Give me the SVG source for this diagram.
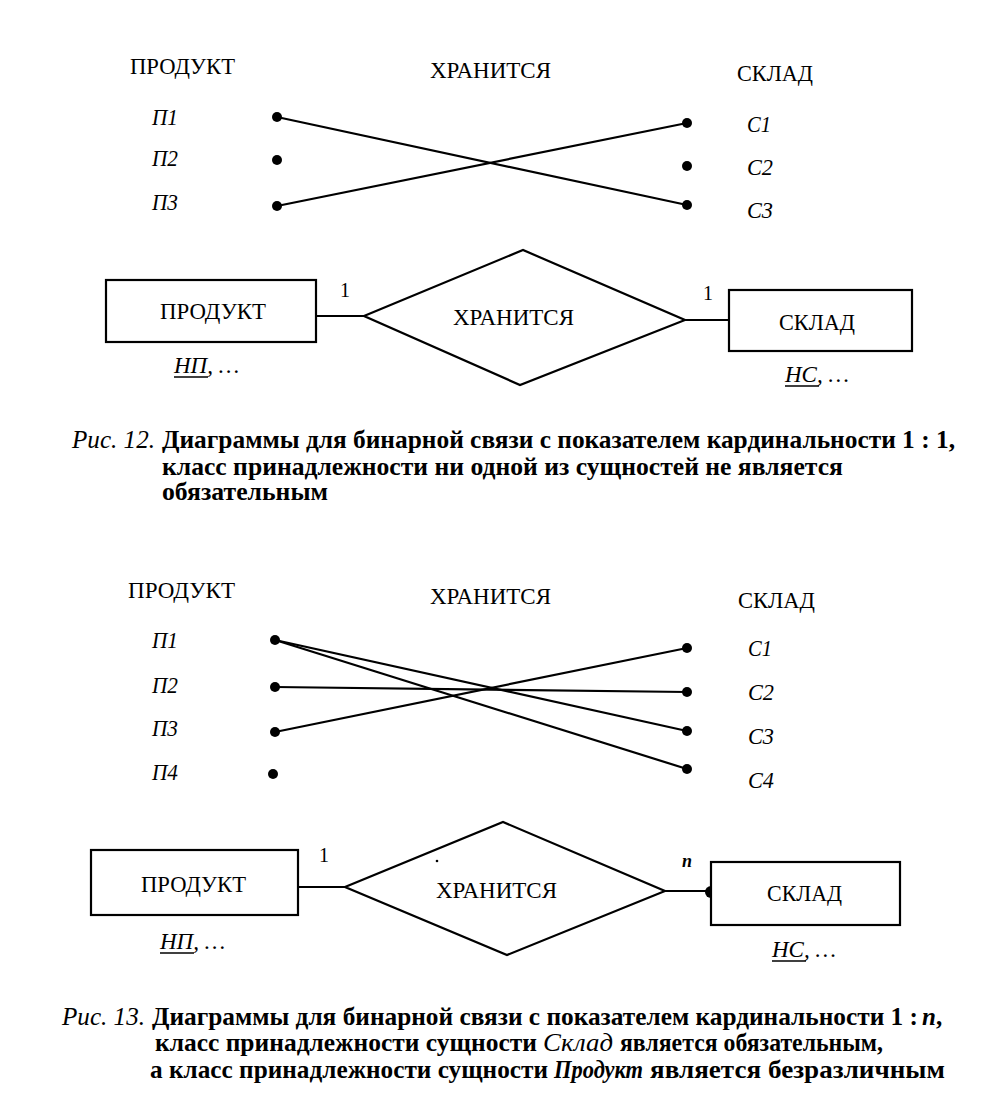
<svg xmlns="http://www.w3.org/2000/svg" width="993" height="1117" viewBox="0 0 993 1117">
<style>
.bg{fill:#fff}
.h{font-family:"Liberation Serif","Times New Roman",serif;font-size:24px;fill:#000}
.i{font-family:"Liberation Serif","Times New Roman",serif;font-size:23px;font-style:italic;fill:#000}
.cap{font-family:"Liberation Serif","Times New Roman",serif;font-size:25px;font-weight:bold;fill:#000}
.capi{font-family:"Liberation Serif","Times New Roman",serif;font-size:25px;font-style:italic;fill:#000}
.capbi{font-family:"Liberation Serif","Times New Roman",serif;font-size:25px;font-style:italic;font-weight:bold;fill:#000}
.ln{stroke:#000;stroke-width:2.2;fill:none}
.box{stroke:#000;stroke-width:2.2;fill:#fff}
.dot{fill:#000}
</style>
<rect class="bg" x="0" y="0" width="993" height="1117"/>

<!-- Figure 12: instance diagram -->
<g id="fig12-headers">
<text class="h" x="130" y="74" textLength="105" lengthAdjust="spacingAndGlyphs">ПРОДУКТ</text>
<text class="h" x="430" y="78" textLength="121" lengthAdjust="spacingAndGlyphs">ХРАНИТСЯ</text>
<text class="h" x="737" y="81" textLength="76" lengthAdjust="spacingAndGlyphs">СКЛАД</text>
</g>
<g id="fig12-products">
<text class="i" x="152" y="125" textLength="26" lengthAdjust="spacingAndGlyphs">П1</text>
<text class="i" x="152" y="166" textLength="26" lengthAdjust="spacingAndGlyphs">П2</text>
<text class="i" x="152" y="210" textLength="26" lengthAdjust="spacingAndGlyphs">П3</text>
<circle class="dot" cx="277" cy="117" r="5"/>
<circle class="dot" cx="277" cy="160" r="5"/>
<circle class="dot" cx="277" cy="206" r="5"/>
</g>
<g id="fig12-stores">
<text class="i" x="747" y="132" textLength="24" lengthAdjust="spacingAndGlyphs">С1</text>
<text class="i" x="747" y="175" textLength="26" lengthAdjust="spacingAndGlyphs">С2</text>
<text class="i" x="747" y="218" textLength="26" lengthAdjust="spacingAndGlyphs">С3</text>
<circle class="dot" cx="687" cy="123" r="5"/>
<circle class="dot" cx="687" cy="166" r="5"/>
<circle class="dot" cx="687" cy="205" r="5"/>
</g>
<g id="fig12-links">
<line class="ln" x1="277" y1="117" x2="687" y2="205"/>
<line class="ln" x1="277" y1="206" x2="687" y2="123"/>
</g>

<!-- Figure 12: ER diagram -->
<g id="fig12-er-connectors">
<line class="ln" x1="316" y1="316" x2="364" y2="316"/>
<line class="ln" x1="685" y1="320" x2="729" y2="320"/>
</g>
<g id="fig12-product">
<rect class="box" x="106" y="280" width="210" height="62"/>
<text class="h" x="160" y="319" textLength="106" lengthAdjust="spacingAndGlyphs">ПРОДУКТ</text>
<text class="i" x="174" y="373">НП, …</text>
<line class="ln" x1="174" y1="377" x2="208" y2="377" style="stroke-width:1.5"/>
</g>
<g id="fig12-rel">
<polygon class="box" points="364,316 523,250 685,320 520,385"/>
<text class="h" x="453" y="325" textLength="121" lengthAdjust="spacingAndGlyphs">ХРАНИТСЯ</text>
<text class="h" x="340" y="297" style="font-size:20px">1</text>
<text class="h" x="703" y="300" style="font-size:20px">1</text>
</g>
<g id="fig12-store">
<rect class="box" x="729" y="290" width="183" height="61"/>
<text class="h" x="779" y="330" textLength="76" lengthAdjust="spacingAndGlyphs">СКЛАД</text>
<text class="i" x="785" y="382">НС, …</text>
<line class="ln" x1="785" y1="386" x2="819" y2="386" style="stroke-width:1.5"/>
</g>
<g id="caption12">
<text class="capi" x="72" y="448" textLength="83" lengthAdjust="spacingAndGlyphs">Рис. 12.</text>
<text class="cap" x="162" y="448" textLength="793" lengthAdjust="spacingAndGlyphs">Диаграммы для бинарной связи с показателем кардинальности 1 : 1,</text>
<text class="cap" x="162" y="475" textLength="681" lengthAdjust="spacingAndGlyphs">класс принадлежности ни одной из сущностей не является</text>
<text class="cap" x="162" y="500" textLength="166" lengthAdjust="spacingAndGlyphs">обязательным</text>
</g>

<!-- Figure 13: instance diagram -->
<g id="fig13-headers">
<text class="h" x="128" y="598" textLength="107" lengthAdjust="spacingAndGlyphs">ПРОДУКТ</text>
<text class="h" x="430" y="604" textLength="121" lengthAdjust="spacingAndGlyphs">ХРАНИТСЯ</text>
<text class="h" x="738" y="608" textLength="77" lengthAdjust="spacingAndGlyphs">СКЛАД</text>
</g>
<g id="fig13-products">
<text class="i" x="152" y="648" textLength="26" lengthAdjust="spacingAndGlyphs">П1</text>
<text class="i" x="152" y="693" textLength="26" lengthAdjust="spacingAndGlyphs">П2</text>
<text class="i" x="152" y="736" textLength="26" lengthAdjust="spacingAndGlyphs">П3</text>
<text class="i" x="152" y="780" textLength="26" lengthAdjust="spacingAndGlyphs">П4</text>
<circle class="dot" cx="275" cy="640" r="5"/>
<circle class="dot" cx="275" cy="687" r="5"/>
<circle class="dot" cx="275" cy="732" r="5"/>
<circle class="dot" cx="273" cy="774" r="5"/>
</g>
<g id="fig13-stores">
<text class="i" x="748" y="656" textLength="24" lengthAdjust="spacingAndGlyphs">С1</text>
<text class="i" x="748" y="700" textLength="26" lengthAdjust="spacingAndGlyphs">С2</text>
<text class="i" x="748" y="744" textLength="26" lengthAdjust="spacingAndGlyphs">С3</text>
<text class="i" x="748" y="788" textLength="26" lengthAdjust="spacingAndGlyphs">С4</text>
<circle class="dot" cx="687" cy="648" r="5"/>
<circle class="dot" cx="687" cy="692" r="5"/>
<circle class="dot" cx="687" cy="731" r="5"/>
<circle class="dot" cx="687" cy="769" r="5"/>
</g>
<g id="fig13-links">
<line class="ln" x1="275" y1="640" x2="687" y2="731"/>
<line class="ln" x1="275" y1="640" x2="687" y2="769"/>
<line class="ln" x1="275" y1="687" x2="687" y2="692"/>
<line class="ln" x1="275" y1="732" x2="687" y2="648"/>
</g>

<!-- Figure 13: ER diagram -->
<g id="fig13-er-connectors">
<line class="ln" x1="298" y1="887" x2="345" y2="887"/>
<line class="ln" x1="665" y1="891" x2="711" y2="891"/>
<circle class="dot" cx="711" cy="892" r="6"/>
</g>
<g id="fig13-product">
<rect class="box" x="91" y="850" width="207" height="65"/>
<text class="h" x="141" y="892" textLength="105" lengthAdjust="spacingAndGlyphs">ПРОДУКТ</text>
<text class="i" x="160" y="949">НП, …</text>
<line class="ln" x1="160" y1="953" x2="194" y2="953" style="stroke-width:1.5"/>
</g>
<g id="fig13-rel">
<polygon class="box" points="345,887 503,822 665,891 507,955"/>
<text class="h" x="436" y="898" textLength="121" lengthAdjust="spacingAndGlyphs">ХРАНИТСЯ</text>
<circle class="dot" cx="437" cy="861" r="1.3"/>
<text class="h" x="319" y="862" style="font-size:20px">1</text>
<text class="i" x="682" y="867" style="font-size:18px;font-weight:bold">n</text>
</g>
<g id="fig13-store">
<rect class="box" x="711" y="862" width="189" height="63"/>
<text class="h" x="767" y="901" textLength="75" lengthAdjust="spacingAndGlyphs">СКЛАД</text>
<text class="i" x="772" y="957">НС, …</text>
<line class="ln" x1="772" y1="961" x2="806" y2="961" style="stroke-width:1.5"/>
</g>
<g id="caption13">
<text class="capi" x="62" y="1025" textLength="83" lengthAdjust="spacingAndGlyphs">Рис. 13.</text>
<text class="cap" x="152" y="1025" textLength="766" lengthAdjust="spacingAndGlyphs">Диаграммы для бинарной связи с показателем кардинальности 1 :</text>
<text class="capbi" x="922" y="1025">n</text>
<text class="cap" x="936" y="1025">,</text>
<text class="cap" x="155" y="1051" textLength="382" lengthAdjust="spacingAndGlyphs">класс принадлежности сущности</text>
<text class="capi" x="543" y="1051" textLength="70" lengthAdjust="spacingAndGlyphs">Склад</text>
<text class="cap" x="620" y="1051" textLength="263" lengthAdjust="spacingAndGlyphs">является обязательным,</text>
<text class="cap" x="150" y="1078" textLength="398" lengthAdjust="spacingAndGlyphs">а класс принадлежности сущности</text>
<text class="capbi" x="554" y="1078" textLength="89" lengthAdjust="spacingAndGlyphs">Продукт</text>
<text class="cap" x="650" y="1078" textLength="295" lengthAdjust="spacingAndGlyphs">является безразличным</text>
</g>
</svg>
